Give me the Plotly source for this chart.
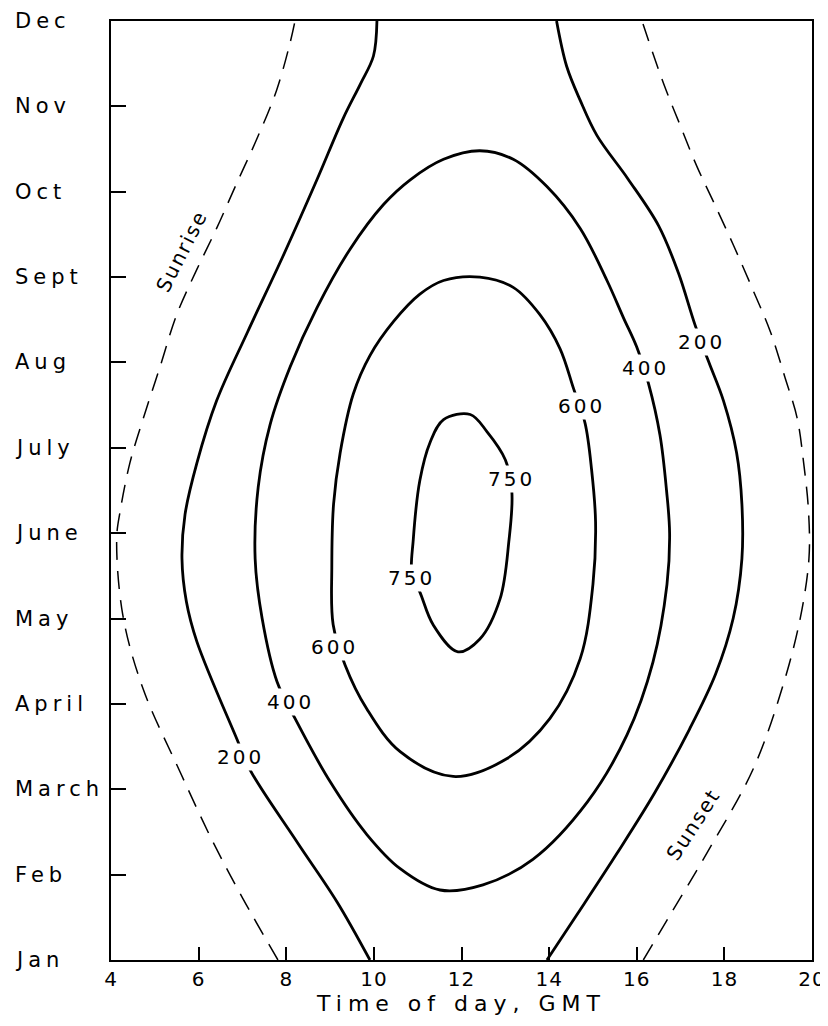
import plotly.graph_objects as go

# ---------------- data (time of day in GMT hours, month index 0=Jan .. 11=Dec) ----------------
months = ["Jan", "Feb", "March", "April", "May", "June", "July", "Aug", "Sept", "Oct", "Nov", "Dec"]
month_vals = list(range(12))
hour_ticks = [4, 6, 8, 10, 12, 14, 16, 18, 20]

sunrise_x = [7.81, 7.01, 6.33, 5.58, 4.73, 4.27, 4.13, 4.21, 4.43, 4.74, 5.12, 5.50, 5.96, 6.41, 6.87, 7.33, 7.78, 8.09, 8.20]
sunrise_y = [0.00, 0.72, 1.38, 2.20, 3.18, 4.04, 4.94, 5.26, 5.82, 6.35, 6.95, 7.56, 8.09, 8.57, 9.10, 9.62, 10.19, 10.75, 11.0]

sunset_x = [16.15, 16.80, 17.62, 18.66, 19.34, 19.73, 19.93, 19.92, 19.81, 19.66, 19.38, 19.05, 18.66, 18.21, 17.78, 17.37, 16.99, 16.61, 16.12]
sunset_y = [0.00, 0.56, 1.27, 2.24, 3.22, 4.00, 4.70, 5.26, 5.82, 6.35, 6.83, 7.36, 7.84, 8.37, 8.85, 9.30, 9.78, 10.27, 11.0]

c200_left_x = [9.91, 9.16, 8.25, 7.17, 6.88, 5.96, 5.72, 5.62, 5.69, 5.96, 6.41, 7.12, 7.93, 8.70, 9.30, 9.70, 9.99, 10.07]
c200_left_y = [0.00, 0.68, 1.38, 2.23, 2.58, 3.73, 4.20, 4.70, 5.22, 5.82, 6.55, 7.36, 8.25, 9.14, 9.86, 10.27, 10.59, 11.0]

c200_right_x = [13.95, 14.66, 15.55, 16.40, 17.20, 17.80, 18.20, 18.40, 18.40, 18.28, 17.98, 17.64, 17.33, 16.95, 16.50, 15.80, 15.09, 14.71, 14.40, 14.17]
c200_right_y = [0.00, 0.55, 1.25, 1.95, 2.70, 3.35, 4.00, 4.70, 5.34, 5.94, 6.55, 7.01, 7.44, 8.05, 8.60, 9.15, 9.66, 10.07, 10.47, 11.0]

c400_x = [12.42, 11.59, 10.83, 10.22, 9.46, 8.70, 8.09, 7.63, 7.36, 7.29, 7.45, 7.79, 8.20, 9.00, 9.84, 10.60, 11.51,
          12.49, 13.63, 14.87, 15.78, 16.37, 16.69, 16.75, 16.68, 16.53, 16.27, 16.00, 15.70, 15.32, 14.71, 13.95, 13.18, 12.42]
c400_y = [9.48, 9.38, 9.14, 8.85, 8.33, 7.64, 6.95, 6.27, 5.54, 4.70, 4.00, 3.26, 2.83, 2.09, 1.47, 1.07, 0.82,
          0.88, 1.18, 1.85, 2.64, 3.49, 4.40, 5.00, 5.50, 6.15, 6.75, 7.18, 7.52, 7.96, 8.57, 9.06, 9.38, 9.48]

c600_x = [12.42, 11.59, 11.05, 10.45, 9.91, 9.53, 9.23, 9.08, 9.04, 9.07, 9.34, 9.84, 10.60, 11.81, 13.04,
          14.02, 14.71, 15.00, 15.06, 14.97, 14.82, 14.56, 14.25, 13.79, 13.18, 12.42]
c600_y = [8.00, 7.96, 7.80, 7.48, 7.08, 6.63, 5.94, 5.34, 4.60, 3.93, 3.46, 2.94, 2.44, 2.15, 2.36,
          2.83, 3.53, 4.40, 5.13, 5.74, 6.29, 6.69, 7.16, 7.56, 7.88, 8.00]

c750_x = [12.20, 11.59, 11.28, 11.05, 10.90, 10.87, 11.05, 11.35, 11.92, 12.42, 12.88, 13.08, 13.15, 13.00, 12.58, 12.20]
c750_y = [6.39, 6.33, 6.06, 5.62, 4.93, 4.50, 4.31, 3.93, 3.61, 3.76, 4.23, 4.90, 5.48, 5.86, 6.19, 6.39]

label_text = ["200", "200", "400", "400", "600", "600", "750", "750"]
label_x = [6.95, 17.48, 8.09, 16.19, 9.11, 14.75, 10.87, 13.15]
label_y = [2.38, 7.24, 3.02, 6.93, 3.67, 6.49, 4.47, 5.64]

# ---------------- figure ----------------
FONT = "DejaVu Sans"


def spaced(t, sp=3):
    return f'<span style="letter-spacing:{sp}px">{t}</span>'


fig = go.Figure()

for xs, ys in [(sunrise_x, sunrise_y), (sunset_x, sunset_y)]:
    fig.add_trace(go.Scatter(x=xs, y=ys, mode="lines",
                             line=dict(color="black", width=1.5, dash="18px,11px", shape="spline", smoothing=1.0),
                             hoverinfo="skip", showlegend=False))

for xs, ys in [(c200_left_x, c200_left_y), (c200_right_x, c200_right_y),
               (c400_x, c400_y), (c600_x, c600_y), (c750_x, c750_y)]:
    fig.add_trace(go.Scatter(x=xs, y=ys, mode="lines",
                             line=dict(color="black", width=2.8, shape="spline", smoothing=1.0),
                             hoverinfo="skip", showlegend=False))

annotations = []
for t, x, y in zip(label_text, label_x, label_y):
    annotations.append(dict(x=x, y=y, xref="x", yref="y", text=spaced(t, 3), showarrow=False,
                            font=dict(family=FONT, size=20, color="black"),
                            bgcolor="white", borderpad=1))

for m, v in zip(months, month_vals):
    annotations.append(dict(x=-0.1398, y=v, xref="paper", yref="y", text=spaced(m, 5), showarrow=False,
                            xanchor="left", yanchor="middle",
                            font=dict(family=FONT, size=21, color="black")))

annotations.append(dict(x=5.61, y=8.31, xref="x", yref="y", text=spaced("Sunrise", 2), showarrow=False,
                        textangle=-63, font=dict(family=FONT, size=20, color="black")))
annotations.append(dict(x=17.30, y=1.59, xref="x", yref="y", text=spaced("Sunset", 2), showarrow=False,
                        textangle=-57, font=dict(family=FONT, size=20, color="black")))

# the page body adds an 8px offset, so the margins are shifted to place the frame as in the reference
fig.update_layout(
    width=828, height=1026,
    margin=dict(l=103, r=24, t=13, b=74, autoexpand=False),
    paper_bgcolor="white", plot_bgcolor="white",
    font=dict(family=FONT, size=20, color="black"),
    annotations=annotations,
    xaxis=dict(range=[4, 20], tickvals=hour_ticks, ticktext=[spaced(str(h), 1) for h in hour_ticks],
               ticks="inside", ticklen=13, tickwidth=1.5, tickcolor="black",
               showline=True, linecolor="black", linewidth=2, mirror=True,
               showgrid=False, zeroline=False, automargin=False,
               tickfont=dict(family=FONT, size=20),
               title=dict(text=spaced("Time of day, GMT", 6), font=dict(family=FONT, size=22), standoff=4)),
    yaxis=dict(range=[0, 11], tickvals=month_vals, showticklabels=False,
               ticks="inside", ticklen=15, tickwidth=1.5, tickcolor="black",
               showline=True, linecolor="black", linewidth=2, mirror=True,
               showgrid=False, zeroline=False, automargin=False),
)

fig.write_html("out.html")
